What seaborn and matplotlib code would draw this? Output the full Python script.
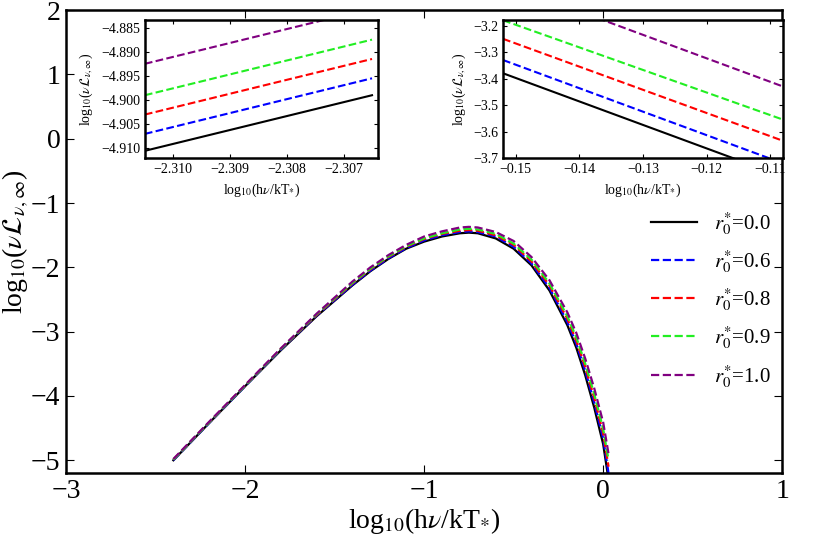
import numpy as np
import pandas as pd
import matplotlib
matplotlib.use("Agg")
import matplotlib.pyplot as plt
import seaborn as sns

plt.rcParams["font.family"] = "Liberation Serif"
plt.rcParams["mathtext.fontset"] = "stix"

labels = ["$r_0^{*}$=0.0", "$r_0^{*}$=0.6", "$r_0^{*}$=0.8", "$r_0^{*}$=0.9", "$r_0^{*}$=1.0"]
colors = ["black", "blue", "red", "#22ee22", "purple"]
styles = ["-", "--", "--", "--", "--"]

x_main = [-2.4, -2.2, -2.0, -1.8, -1.6, -1.4, -1.3, -1.2, -1.1, -1.0, -0.9, -0.8, -0.75, -0.7, -0.6, -0.5, -0.4, -0.3, -0.2, -0.15, -0.1, -0.05, 0.0, 0.03]
y_main = {
    0: [-5.0, -4.42, -3.85, -3.29, -2.76, -2.28, -2.06, -1.87, -1.71, -1.6, -1.52, -1.47, -1.46, -1.47, -1.55, -1.71, -1.97, -2.36, -2.9, -3.25, -3.68, -4.18, -4.75, -5.3],
    1: [-5.0, -4.42, -3.85, -3.28, -2.75, -2.27, -2.05, -1.86, -1.7, -1.58, -1.5, -1.45, -1.44, -1.45, -1.52, -1.68, -1.94, -2.32, -2.85, -3.19, -3.61, -4.1, -4.66, -5.2],
    2: [-4.99, -4.41, -3.84, -3.27, -2.74, -2.25, -2.03, -1.84, -1.68, -1.56, -1.48, -1.43, -1.42, -1.43, -1.5, -1.65, -1.91, -2.28, -2.8, -3.14, -3.55, -4.03, -4.58, -5.1],
    3: [-4.99, -4.41, -3.84, -3.27, -2.73, -2.24, -2.02, -1.83, -1.67, -1.55, -1.47, -1.41, -1.4, -1.41, -1.48, -1.63, -1.88, -2.25, -2.76, -3.09, -3.5, -3.97, -4.51, -5.0],
    4: [-4.98, -4.4, -3.83, -3.26, -2.72, -2.22, -2.0, -1.81, -1.65, -1.52, -1.44, -1.38, -1.37, -1.38, -1.45, -1.59, -1.84, -2.2, -2.7, -3.02, -3.42, -3.88, -4.41, -4.9],
}

x_in1 = [-2.3105, -2.3065]
y_in1 = {0: [-4.9105, -4.899], 1: [-4.907, -4.8955], 2: [-4.903, -4.8915], 3: [-4.899, -4.8875], 4: [-4.8925, -4.881]}

x_in2 = [-0.152, -0.108]
y_in2 = {0: [-3.38, -3.77], 1: [-3.33, -3.72], 2: [-3.25, -3.635], 3: [-3.18, -3.555], 4: [-3.04, -3.43]}

fig = plt.figure(figsize=(8.14, 5.34), dpi=100)
ax = fig.add_axes([0.081, 0.114, 0.88, 0.867])

def draw(a, xs, ys, lw):
    for i in range(5):
        df = pd.DataFrame({"x": xs, "y": ys[i]})
        sns.lineplot(data=df, x="x", y="y", ax=a, color=colors[i], linestyle=styles[i],
                     linewidth=lw, label=labels[i], sort=False)

draw(ax, x_main, y_main, 1.6)
ax.set_xlim(-3, 1)
ax.set_ylim(-5.2, 2)
ax.set_xticks([-3, -2, -1, 0, 1])
ax.set_xticklabels(["\u22123", "\u22122", "\u22121", "0", "1"])
ax.set_yticks([-5, -4, -3, -2, -1, 0, 1, 2])
ax.set_yticklabels(["\u22125", "\u22124", "\u22123", "\u22122", "\u22121", "0", "1", "2"])
ax.tick_params(direction="in", labelsize=20, top=True, right=True, length=6, pad=4)
ax.set_xlabel(r"log$_{10}$(h$\nu$/kT$_{*}$)", fontsize=20, labelpad=2)
ax.set_ylabel(r"log$_{10}$($\nu\mathcal{L}_{\nu,\infty}$)", fontsize=20, labelpad=0)
for s in ax.spines.values():
    s.set_linewidth(1.8)
leg = ax.legend(loc="lower right", bbox_to_anchor=(1.01, 0.14), frameon=False, fontsize=15,
                handlelength=2.2, labelspacing=0.55)

ins1 = fig.add_axes([0.178, 0.704, 0.286, 0.258])
draw(ins1, x_in1, y_in1, 1.5)
ins1.set_xlim(-2.3105, -2.3064)
ins1.set_ylim(-4.912, -4.8835)
ins1.set_xticks([-2.310, -2.309, -2.308, -2.307])
ins1.set_xticklabels(["\u22122.310", "\u22122.309", "\u22122.308", "\u22122.307"])
ins1.set_yticks([-4.910, -4.905, -4.900, -4.895, -4.890, -4.885])
ins1.set_yticklabels(["\u22124.910", "\u22124.905", "\u22124.900", "\u22124.895", "\u22124.890", "\u22124.885"])

ins2 = fig.add_axes([0.618, 0.704, 0.344, 0.258])
draw(ins2, x_in2, y_in2, 1.5)
ins2.set_xlim(-0.152, -0.108)
ins2.set_ylim(-3.7, -3.18)
ins2.set_xticks([-0.15, -0.14, -0.13, -0.12, -0.11])
ins2.set_xticklabels(["\u22120.15", "\u22120.14", "\u22120.13", "\u22120.12", "\u22120.11"])
ins2.set_yticks([-3.7, -3.6, -3.5, -3.4, -3.3, -3.2])
ins2.set_yticklabels(["\u22123.7", "\u22123.6", "\u22123.5", "\u22123.4", "\u22123.3", "\u22123.2"])

for a in (ins1, ins2):
    a.get_legend().remove()
    a.tick_params(direction="in", labelsize=10, top=True, right=True, length=3)
    a.set_xlabel(r"log$_{10}$(h$\nu$/kT$_{*}$)", fontsize=10)
    a.set_ylabel(r"log$_{10}$($\nu\mathcal{L}_{\nu,\infty}$)", fontsize=10)
    for s in a.spines.values():
        s.set_linewidth(1.8)

fig.savefig("out.png", dpi=100)
